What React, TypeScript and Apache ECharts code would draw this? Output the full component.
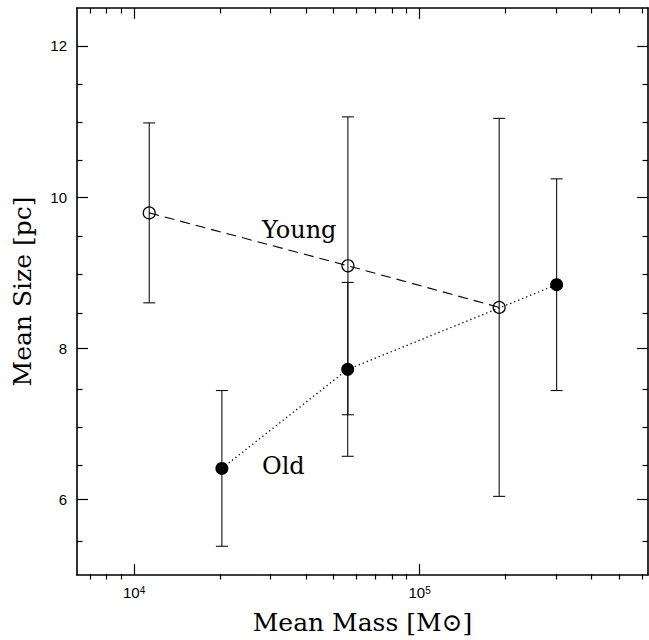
import { useEffect, useRef } from "react";
import * as echarts from "echarts";

// Young clusters: mean mass [Msun], mean size [pc], 1-sigma spread
const youngMass = [1.13e4, 5.61e4, 1.9e5];
const youngSize = [9.79, 9.09, 8.54];
const youngErr = [1.19, 1.97, 2.5];

// Old clusters
const oldMass = [2.03e4, 5.6e4, 3.02e5];
const oldSize = [6.41, 7.72, 8.84];
const oldErr = [1.03, 1.15, 1.4];

// Axis extents and tick positions
const massRange = [6310, 631000];
const sizeRange = [5, 12.5];
const massMajorTicks = [1e4, 1e5];
const massMinorTicks = [7e3, 8e3, 9e3, 2e4, 3e4, 4e4, 5e4, 6e4, 7e4, 8e4, 9e4, 2e5, 3e5, 4e5, 5e5, 6e5];
const sizeMajorTicks = [6, 8, 10, 12];
const sizeMinorTicks = [5.5, 6.5, 7, 7.5, 8.5, 9, 9.5, 10.5, 11, 11.5];

const lg = (v: number) => Math.log10(v);

const SERIF = "DejaVu Serif";
const SANS = "Liberation Sans";

export default function App() {
  const ref = useRef<HTMLDivElement>(null);

  useEffect(() => {
    if (!ref.current) return;
    const chart = echarts.init(ref.current, undefined, { renderer: "svg" });

    const xMin = lg(massRange[0]);
    const xMax = lg(massRange[1]);
    const frame = { show: true, lineStyle: { color: "#000", width: 1.6 } };
    const tickStyle = { color: "#000", width: 1.2 };
    const gridBox = { left: 77, right: 1, top: 8, bottom: 60.5, containLabel: false };

    // grid 0 carries the frame, major ticks, labels and data; grid 1 (same box) carries minor ticks
    const xAxisBase = (gridIndex: number, position: "bottom" | "top", withLabel: boolean) => {
      const major = gridIndex === 0;
      return {
        type: "value",
        gridIndex,
        position,
        min: xMin,
        max: xMax,
        axisLine: major ? frame : { show: false },
        axisTick: {
          show: true,
          inside: true,
          length: major ? 11 : 5.5,
          customValues: (major ? massMajorTicks : massMinorTicks).map(lg),
          lineStyle: tickStyle,
        },
        axisLabel: withLabel
          ? {
              show: true,
              customValues: massMajorTicks.map(lg),
              margin: 10,
              fontFamily: SANS,
              fontSize: 15,
              color: "#000",
              formatter: (v: number) => `{b|10}{s|${Math.round(v)}}`,
              rich: {
                b: { fontFamily: SANS, fontSize: 15, lineHeight: 16, color: "#000", verticalAlign: "top" },
                s: { fontFamily: SANS, fontSize: 10, lineHeight: 10, color: "#000", verticalAlign: "top" },
              },
            }
          : { show: false },
        splitLine: { show: false },
      };
    };

    const yAxisBase = (gridIndex: number, position: "left" | "right", withLabel: boolean) => {
      const major = gridIndex === 0;
      return {
        type: "value",
        gridIndex,
        position,
        min: sizeRange[0],
        max: sizeRange[1],
        axisLine: major ? frame : { show: false },
        axisTick: {
          show: true,
          inside: true,
          length: major ? 11 : 5.5,
          customValues: major ? sizeMajorTicks : sizeMinorTicks,
          lineStyle: tickStyle,
        },
        axisLabel: withLabel
          ? {
              show: true,
              customValues: sizeMajorTicks,
              margin: 10,
              fontFamily: SANS,
              fontSize: 15,
              color: "#000",
            }
          : { show: false },
        splitLine: { show: false },
      };
    };

    const errorBars = (mass: number[], size: number[], err: number[]) => ({
      type: "custom",
      xAxisIndex: 0,
      yAxisIndex: 0,
      z: 1,
      silent: true,
      encode: { x: 0, y: [1, 2] },
      data: mass.map((m, i) => [lg(m), size[i] - err[i], size[i] + err[i]]),
      renderItem: (_params: any, api: any) => {
        const x = api.value(0);
        const lo = api.coord([x, api.value(1)]);
        const hi = api.coord([x, api.value(2)]);
        const w = 6;
        const style = { stroke: "#111", lineWidth: 1.1, fill: "none" };
        return {
          type: "group",
          children: [
            { type: "line", shape: { x1: lo[0], y1: lo[1], x2: hi[0], y2: hi[1] }, style },
            { type: "line", shape: { x1: lo[0] - w, y1: lo[1], x2: lo[0] + w, y2: lo[1] }, style },
            { type: "line", shape: { x1: hi[0] - w, y1: hi[1], x2: hi[0] + w, y2: hi[1] }, style },
          ],
        };
      },
    });

    chart.setOption({
      animation: false,
      backgroundColor: "#fff",
      grid: [gridBox, gridBox],
      xAxis: [
        {
          ...xAxisBase(0, "bottom", true),
          name: "Mean Mass [M\u2299]",
          nameLocation: "middle",
          nameGap: 35,
          nameTextStyle: { fontFamily: SERIF, fontSize: 25, color: "#000" },
        },
        xAxisBase(0, "top", false),
        xAxisBase(1, "bottom", false),
        xAxisBase(1, "top", false),
      ],
      yAxis: [
        {
          ...yAxisBase(0, "left", true),
          name: "Mean Size [pc]",
          nameLocation: "middle",
          nameGap: 42,
          nameRotate: 90,
          nameTextStyle: { fontFamily: SERIF, fontSize: 25, color: "#000" },
        },
        yAxisBase(0, "right", false),
        yAxisBase(1, "left", false),
        yAxisBase(1, "right", false),
      ],
      series: [
        errorBars(youngMass, youngSize, youngErr),
        errorBars(oldMass, oldSize, oldErr),
        {
          name: "Young",
          type: "line",
          xAxisIndex: 0,
          yAxisIndex: 0,
          z: 3,
          data: youngMass.map((m, i) => [lg(m), youngSize[i]]),
          symbol: "circle",
          symbolSize: 12,
          itemStyle: { color: "rgba(0,0,0,0)", borderColor: "#000", borderWidth: 1.2 },
          lineStyle: { color: "#000", width: 1.1, type: [10, 6] },
        },
        {
          name: "Old",
          type: "line",
          xAxisIndex: 0,
          yAxisIndex: 0,
          z: 3,
          data: oldMass.map((m, i) => [lg(m), oldSize[i]]),
          symbol: "circle",
          symbolSize: 13,
          itemStyle: { color: "#000" },
          lineStyle: { color: "#000", width: 1.3, type: [1.3, 3] },
        },
      ],
      graphic: [
        {
          type: "text",
          left: 262,
          top: 218,
          style: { text: "Young", fontFamily: SERIF, fontSize: 24, fill: "#000" },
        },
        {
          type: "text",
          left: 262,
          top: 454,
          style: { text: "Old", fontFamily: SERIF, fontSize: 24, fill: "#000" },
        },
      ],
    });

    return () => chart.dispose();
  }, []);

  return (
    <div
      ref={ref}
      style={{ position: "fixed", left: 0, top: 0, width: 649, height: 640, background: "#fff" }}
    />
  );
}
